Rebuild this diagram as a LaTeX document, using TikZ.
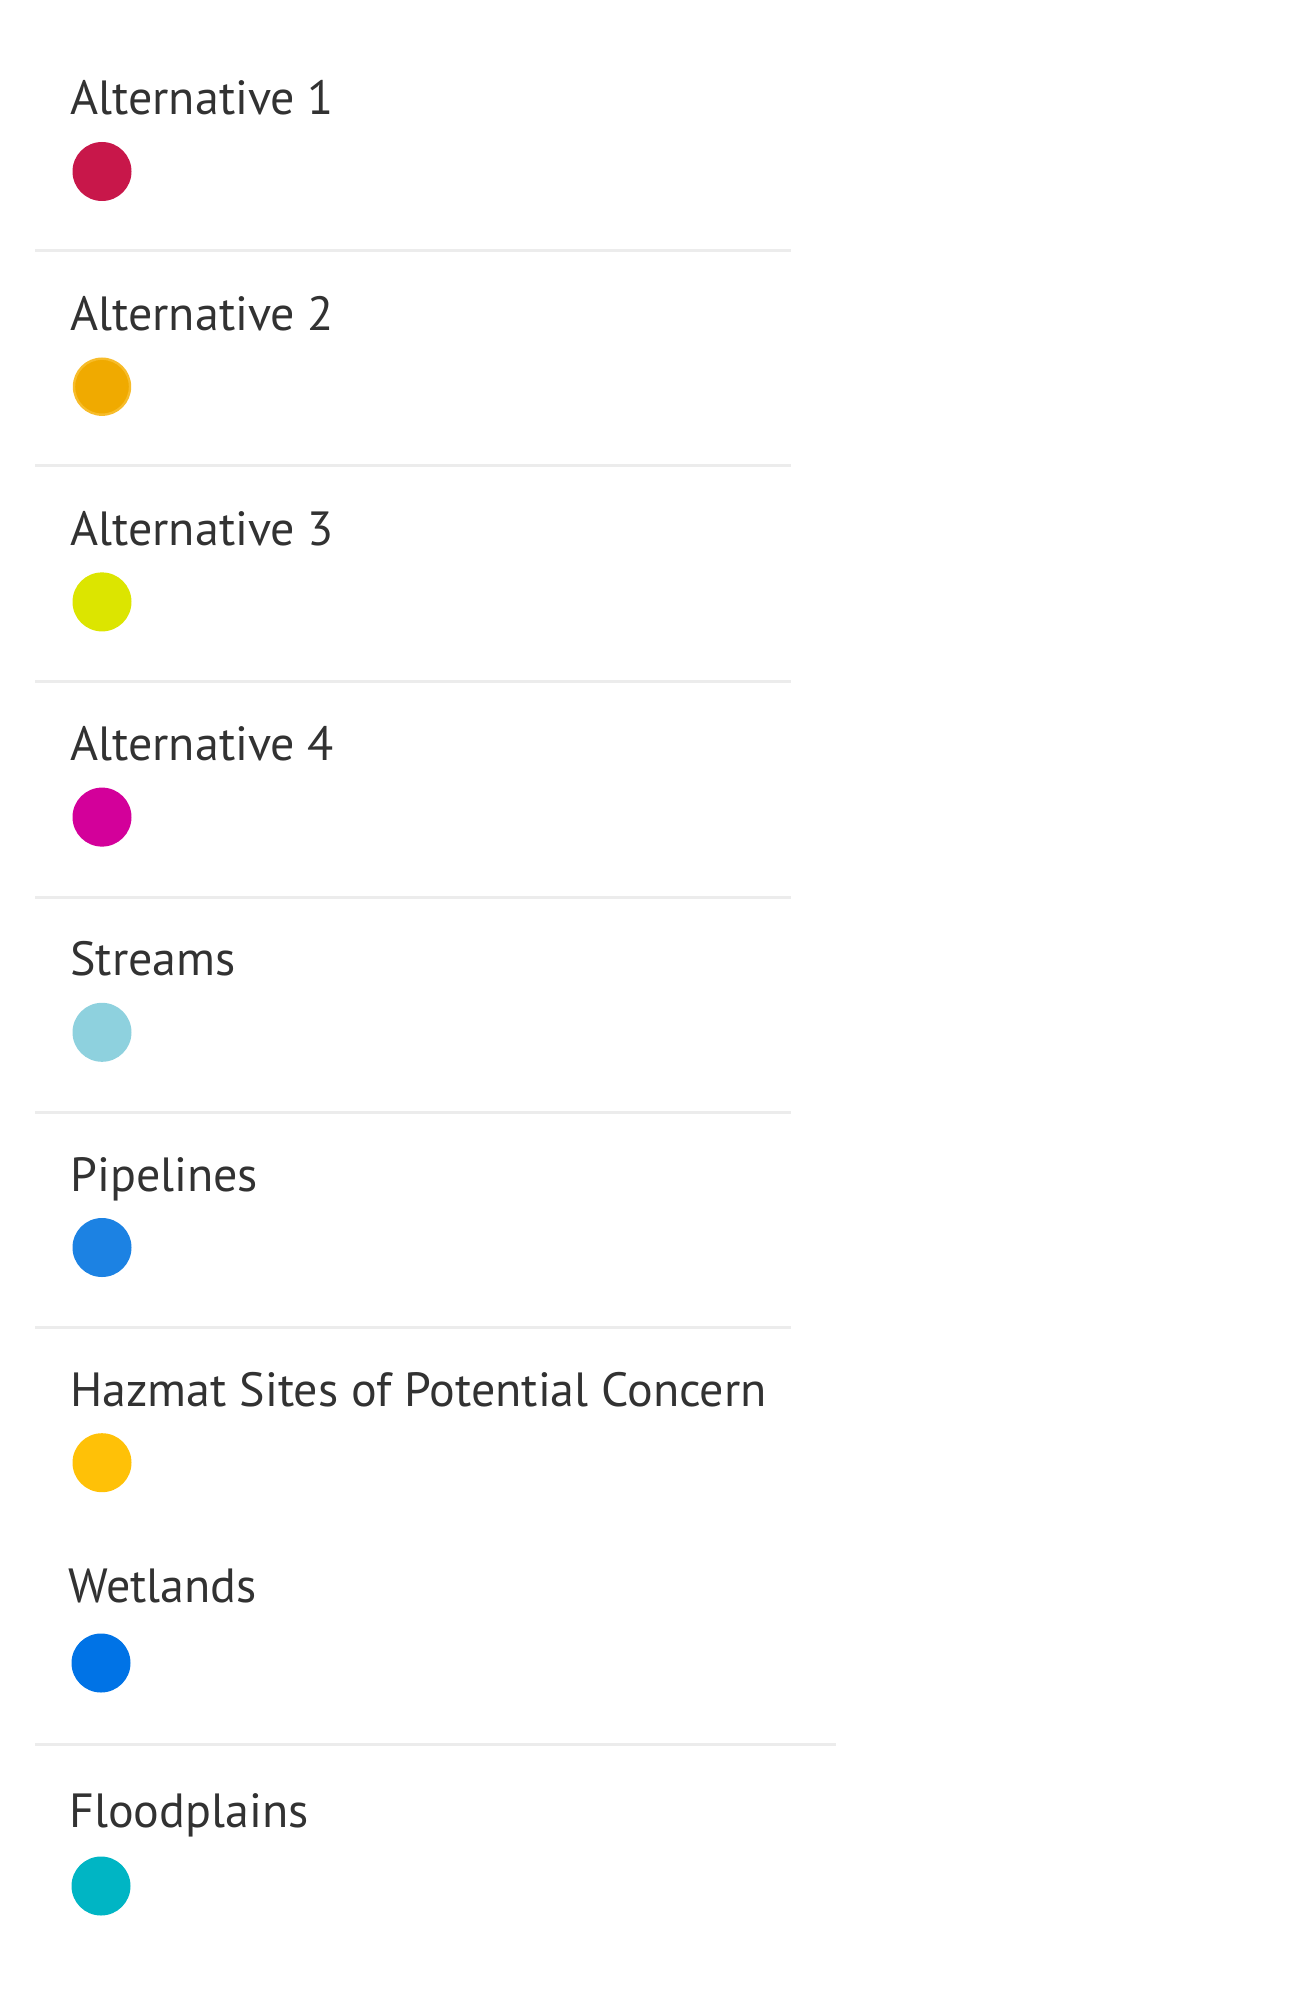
\documentclass[tikz,border=0pt]{standalone}
\usepackage{fontspec}
\setmainfont{PT Sans}
\definecolor{labelgrey}{HTML}{323232}
\definecolor{rulegrey}{HTML}{ECECEC}
\definecolor{altone}{HTML}{C8174A}
\definecolor{alttwo}{HTML}{F0AA00}
\definecolor{alttworing}{HTML}{F7BC2A}
\definecolor{altthree}{HTML}{DCE500}
\definecolor{altfour}{HTML}{D3009A}
\definecolor{streamblue}{HTML}{8ED1DE}
\definecolor{pipeblue}{HTML}{1C82E3}
\definecolor{hazmatyellow}{HTML}{FFC107}
\definecolor{wetblue}{HTML}{0073E6}
\definecolor{floodteal}{HTML}{00B5C4}
\begin{document}
\begin{tikzpicture}[x=0.5pt, y=-0.5pt]
 \tikzset{title/.style={anchor=base west, inner sep=0pt, text=labelgrey, font=\fontsize{24}{29}\selectfont}}
 \tikzset{dot/.style={circle, inner sep=0pt, minimum size=29.5pt}}
 \tikzset{sep/.style={rulegrey, line width=1.5pt}}
  \useasboundingbox (0,0) rectangle (1294,2000);
  \node[title] (Alt1) at (70,115) {Alternative 1};
  \node[dot, fill=altone] (Alt1Dot) at (102,171.5) {};
  \node[title] (Alt2) at (70,330.2) {Alternative 2};
  \node[dot, fill=alttwo, draw=alttworing, line width=1.2pt, minimum size=28pt] (Alt2Dot) at (102,386.7) {};
  \node[title] (Alt3) at (70,545.4) {Alternative 3};
  \node[dot, fill=altthree] (Alt3Dot) at (102,601.9) {};
  \node[title] (Alt4) at (70,760.6) {Alternative 4};
  \node[dot, fill=altfour] (Alt4Dot) at (102,817.1) {};
  \node[title] (Streams) at (70,975.8) {Streams};
  \node[dot, fill=streamblue] (StreamsDot) at (102,1032.3) {};
  \node[title] (Pipelines) at (70,1191) {Pipelines};
  \node[dot, fill=pipeblue] (PipelinesDot) at (102,1247.5) {};
  \node[title] (Hazmat) at (70,1406) {Hazmat Sites of Potential Concern};
  \node[dot, fill=hazmatyellow] (HazmatDot) at (102,1462.7) {};
  \node[title] (Wetlands) at (68,1602) {Wetlands};
  \node[dot, fill=wetblue] (WetlandsDot) at (101,1663) {};
  \node[title] (Floodplains) at (69,1827) {Floodplains};
  \node[dot, fill=floodteal] (FloodplainsDot) at (101,1886) {};
  \draw[sep] (35,251) -- (791,251);
  \draw[sep] (35,466) -- (791,466);
  \draw[sep] (35,681) -- (791,681);
  \draw[sep] (35,897) -- (791,897);
  \draw[sep] (35,1112) -- (791,1112);
  \draw[sep] (35,1327) -- (791,1327);
  \draw[sep] (35,1744) -- (836,1744);
\end{tikzpicture}
\end{document}
